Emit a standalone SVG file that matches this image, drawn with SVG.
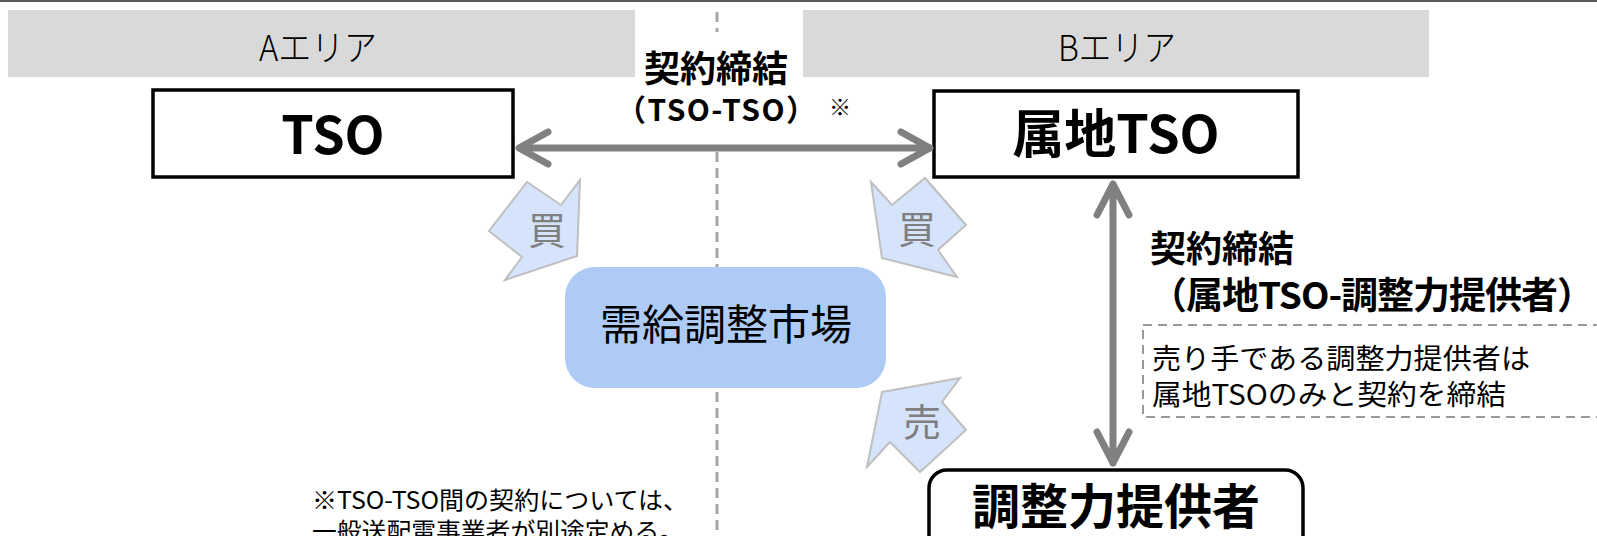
<svg xmlns="http://www.w3.org/2000/svg" width="1597" height="536" viewBox="0 0 1597 536">
<defs>
<style>
.hdr{fill:#d9d9d9}
.hdrt{font-family:"Noto Sans CJK JP","Liberation Sans",sans-serif;font-weight:300;font-size:36px;fill:#000;text-anchor:middle}
.box{fill:#fff;stroke:#000;stroke-width:3.5}
.boxt{font-family:"Noto Sans CJK JP","Liberation Sans",sans-serif;font-weight:700;fill:#000;text-anchor:middle}
.lbl{font-family:"Noto Sans CJK JP","Liberation Sans",sans-serif;font-weight:700;fill:#000}
.note{font-family:"Noto Sans CJK JP","Liberation Sans",sans-serif;font-weight:400;fill:#000}
.conn{fill:none;stroke:#808080;stroke-width:7;stroke-linecap:round;stroke-linejoin:round}
.call{fill:#d5e4fb;stroke:#bfbfbf;stroke-width:2;stroke-linejoin:miter}
.callt{font-family:"Noto Sans CJK JP","Liberation Sans",sans-serif;font-size:38px;fill:#7f7f7f;text-anchor:middle}
.dash{stroke:#a6a6a6;stroke-width:3;stroke-dasharray:10 6}
</style>
</defs>
<rect x="0" y="0" width="1597" height="536" fill="#fff"/>
<line x1="0" y1="1" x2="1597" y2="1" stroke="#595959" stroke-width="2"/>
<g id="areaA">
<rect class="hdr" x="8" y="10" width="627" height="67"/>
<text class="hdrt" x="318" y="61" textLength="118" lengthAdjust="spacingAndGlyphs">Aエリア</text>
</g>
<g id="areaB">
<rect class="hdr" x="803" y="10" width="626" height="67"/>
<text class="hdrt" x="1117" y="61" textLength="118" lengthAdjust="spacingAndGlyphs">Bエリア</text>
</g>
<g id="border">
<line class="dash" x1="717" y1="12" x2="717" y2="32"/>
<line class="dash" x1="717" y1="152" x2="717" y2="536"/>
</g>
<g id="market">
<rect x="565" y="267" width="321" height="121" rx="30" fill="#aecbf6"/>
<text class="note" x="726" y="340" font-size="42" text-anchor="middle">需給調整市場</text>
</g>
<g id="tso">
<rect class="box" x="153" y="90" width="360" height="87"/>
<text class="boxt" x="333" y="154" font-size="52">TSO</text>
</g>
<g id="localTso">
<rect class="box" x="934" y="91" width="364" height="86"/>
<text class="boxt" x="1116" y="153" font-size="52">属地TSO</text>
</g>
<g id="provider">
<rect class="box" x="929" y="470" width="374" height="90" rx="18"/>
<text class="boxt" x="1116" y="524" font-size="48">調整力提供者</text>
</g>
<g id="connectors">
<path class="conn" d="M520 148 H929 M548 132 L519 148 L548 164 M901 132 L930 148 L901 164"/>
<path class="conn" d="M1113 184 V463 M1097 215 L1113 184 L1129 215 M1097 432 L1113 463 L1129 432"/>
</g>
<g id="contractTop">
<text class="lbl" x="716" y="82" font-size="36" text-anchor="middle">契約締結</text>
<text class="lbl" x="716" y="121" font-size="30" text-anchor="middle" textLength="200" lengthAdjust="spacing">（TSO-TSO）</text>
<text class="note" x="829" y="115" font-size="22">※</text>
</g>
<g id="contractRight">
<text class="lbl" x="1150" y="262" font-size="36">契約締結</text>
<text class="lbl" x="1150" y="309" font-size="37" textLength="444" lengthAdjust="spacing">（属地TSO-調整力提供者）</text>
</g>
<g id="noteBox">
<rect x="1143" y="325" width="470" height="92" fill="none" stroke="#999" stroke-width="2" stroke-dasharray="9 6"/>
<text class="note" x="1152" y="369" font-size="28" textLength="378" lengthAdjust="spacingAndGlyphs">売り手である調整力提供者は</text>
<text class="note" x="1152" y="405" font-size="28" textLength="354" lengthAdjust="spacingAndGlyphs">属地TSOのみと契約を締結</text>
</g>
<g id="buyA">
<polygon class="call" points="527,182 561,205 580,180 577,256 505,280 522,257 489,231"/>
<text class="callt" x="547" y="244">買</text>
</g>
<g id="buyB">
<polygon class="call" points="871,182 892,205 925,178 966,225 938,250 957,277 882,258"/>
<text class="callt" x="917" y="243">買</text>
</g>
<g id="sellB">
<polygon class="call" points="882,392 960,378 942,402 966,430 920,472 890,442 867,467"/>
<text class="callt" x="922" y="436">売</text>
</g>
<g id="footnote">
<text class="note" x="312" y="509" font-size="24" textLength="376" lengthAdjust="spacingAndGlyphs">※TSO-TSO間の契約については、</text>
<text class="note" x="312" y="540" font-size="24" textLength="372" lengthAdjust="spacingAndGlyphs">一般送配電事業者が別途定める。</text>
</g>
</svg>
